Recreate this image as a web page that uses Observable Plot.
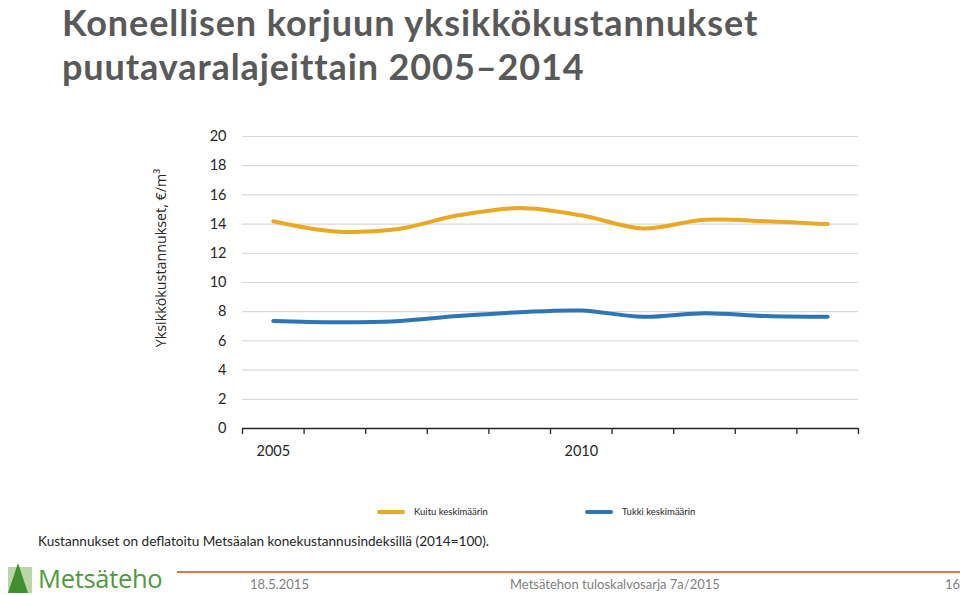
<!DOCTYPE html>
<html>
<head>
<meta charset="utf-8">
<script src="https://cdn.jsdelivr.net/npm/d3@7"></script>
<script src="https://cdn.jsdelivr.net/npm/@observablehq/plot@0.6"></script>
<style>
  html, body { margin: 0; padding: 0; background: #fff; }
  #page { position: relative; width: 960px; height: 595px; overflow: hidden; background: #fff; font-family: Lato, "Open Sans", sans-serif; }
  .title { position: absolute; left: 62px; font-size: 36px; font-weight: 700; line-height: normal; color: #595959; white-space: nowrap; letter-spacing: 0.9px; }
  #chart { position: absolute; left: 0; top: 0; }
  #ytitle { position: absolute; left: 160px; top: 258px; transform: translate(-50%, -50%) rotate(-90deg); font-family: "Open Sans", sans-serif; font-size: 14.3px; color: #262626; white-space: nowrap; }
  .leg { position: absolute; top: 506px; font-size: 9.5px; color: #262626; white-space: nowrap; display: flex; align-items: center; }
  .leg .sw { display: inline-block; width: 28px; height: 4px; border-radius: 2px; margin-right: 9px; }
  #caption { position: absolute; left: 38px; top: 533px; font-size: 13.6px; color: #262626; white-space: nowrap; }
  #footline { position: absolute; left: 177px; top: 571px; width: 783px; height: 2px; background: #D9784E; }
  .foot { position: absolute; top: 576px; font-size: 13px; color: #7f7f7f; white-space: nowrap; }
  #logo { position: absolute; left: 6px; top: 561px; display: flex; align-items: center; }
  #logo span { font-family: "Open Sans", sans-serif; font-size: 25.5px; color: #4f9a3a; margin-left: 4px; letter-spacing: -0.3px; }
</style>
</head>
<body>
<div id="page">
  <div id="chart"></div>
  <div class="title" style="top:0px">Koneellisen korjuun yksikkökustannukset</div>
  <div class="title" style="top:43.5px">puutavaralajeittain 2005–2014</div>
  <div id="ytitle">Yksikkökustannukset, €/m³</div>
  <div class="leg" style="left:377px"><span class="sw" style="background:#E9A825"></span>Kuitu keskimäärin</div>
  <div class="leg" style="left:585px"><span class="sw" style="background:#2E75B6"></span>Tukki keskimäärin</div>
  <div id="caption">Kustannukset on deflatoitu Metsäalan konekustannusindeksillä (2014=100).</div>
  <div id="logo">
    <svg width="28" height="30" viewBox="0 0 28 30">
      <rect x="2" y="4" width="24" height="26" fill="#b9d6a8"/>
      <polygon points="12,0 22,30 2,30" fill="#3f8f2f"/>
    </svg>
    <span>Metsäteho</span>
  </div>
  <div id="footline"></div>
  <div class="foot" style="left:250px">18.5.2015</div>
  <div class="foot" style="left:510px">Metsätehon tuloskalvosarja 7a/2015</div>
  <div class="foot" style="left:945px">16</div>
</div>
<script>
const years = [2005, 2006, 2007, 2008, 2009, 2010, 2011, 2012, 2013, 2014];
const kuitu = [14.2, 13.5, 13.65, 14.6, 15.1, 14.6, 13.7, 14.3, 14.2, 14.0];
const tukki = [7.37, 7.28, 7.35, 7.7, 7.96, 8.08, 7.65, 7.9, 7.7, 7.65];
const yTicks = [0, 2, 4, 6, 8, 10, 12, 14, 16, 18, 20];
const xLabels = [2005, 2010];
const seriesNames = ["Kuitu keskimäärin", "Tukki keskimäärin"];
const seriesColors = ["#E9A825", "#2E75B6"];

const data = [];
years.forEach((y, i) => {
  data.push({year: y, value: kuitu[i], series: seriesNames[0]});
  data.push({year: y, value: tukki[i], series: seriesNames[1]});
});
const bandEdges = [...years.map(y => y - 0.5), years[years.length - 1] + 0.5];

const chart = Plot.plot({
  width: 960,
  height: 480,
  marginTop: 136,
  marginBottom: 52,
  marginLeft: 242,
  marginRight: 102,
  style: {fontFamily: "Lato, 'Open Sans', sans-serif", fontSize: "14px", color: "#262626", background: "transparent"},
  x: {domain: [bandEdges[0], bandEdges[bandEdges.length - 1]]},
  y: {domain: [0, 20]},
  color: {domain: seriesNames, range: seriesColors},
  marks: [
    Plot.ruleY(yTicks.filter(d => d > 0), {stroke: "#d9d9d9", strokeWidth: 1.2}),
    Plot.axisY({ticks: yTicks, tickSize: 0, tickPadding: 16, label: null, fontSize: 14.5}),
    Plot.axisX({ticks: bandEdges, tickSize: 6, tickFormat: () => "", label: null, stroke: "#262626", strokeWidth: 1.3}),
    Plot.axisX({ticks: xLabels, tickSize: 0, tickPadding: 17, tickFormat: d => String(d), label: null, fontSize: 14.5}),
    Plot.ruleY([0], {stroke: "#262626", strokeWidth: 1.5}),
    Plot.line(data, {x: "year", y: "value", stroke: "series", z: "series", strokeWidth: 4, curve: "catmull-rom", strokeLinecap: "round"})
  ]
});
document.getElementById("chart").appendChild(chart);
</script>
</body>
</html>
